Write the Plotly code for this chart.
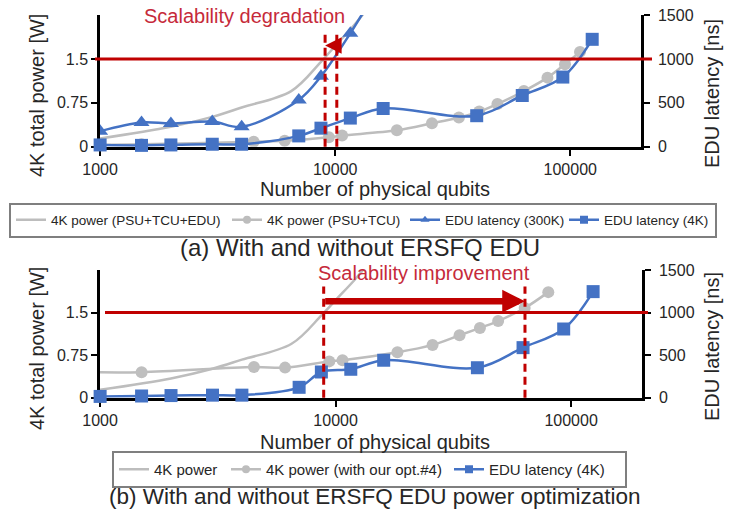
import math
import plotly.graph_objects as go

# ---------------- data ----------------
# 4K total power including the EDU (no markers, left axis)
QUBITS_TOTAL = [1000, 2000, 3000, 4000, 6500, 8700, 10000, 12000, 14000]
POWER_TOTAL_W = [0.14, 0.34, 0.51, 0.67, 0.95, 1.45, 1.72, 2.07, 2.40]

# 4K power without EDU (top) and with optimization #4 (bottom), left axis
QUBITS_GRAY = [900, 1500, 4500, 6100, 9400, 10700, 18300, 25800, 33600,
               41000, 49000, 63500, 80000, 95000, 110000]
POWER_PSU_TCU_W = [0.03, 0.04, 0.085, 0.10, 0.16, 0.19, 0.28, 0.40, 0.50,
                   0.60, 0.73, 0.95, 1.18, 1.41, 1.62]
POWER_OPT4_W = [0.45, 0.45, 0.54, 0.53, 0.64, 0.66, 0.80, 0.93, 1.10,
                1.23, 1.35, 1.58, 1.86]

# EDU latency, right axis
QUBITS_300K = [1000, 1500, 2000, 3000, 4000, 7000, 8700, 11600, 14000]
LATENCY_300K_NS = [177, 276, 264, 287, 226, 533, 801, 1292, 1650]

QUBITS_4K = [1000, 1500, 2000, 3000, 4000, 7000, 8700, 11600, 16000,
             40000, 62500, 93000, 124000]
LATENCY_4K_A_NS = [20, 15, 20, 28, 28, 123, 211, 326, 435, 353, 583, 793, 1223]
LATENCY_4K_B_NS = [15, 20, 25, 30, 30, 122, 302, 334, 440, 352, 588, 807, 1246]

# budgets and scalability limits
POWER_BUDGET_W = 1.5
DEGRADATION_QUBITS = [9060, 10160]
IMPROVEMENT_QUBITS = [8900, 63700]
ARROW_TOP_W = 1.73
ARROW_BOTTOM_W = 1.70

# axes
X_TICKS = [1000, 10000, 100000]
POWER_TICKS = [0, 0.75, 1.5]
POWER_TICK_TEXT = ["0", "0.75", "1.5"]
LATENCY_TICKS = [0, 500, 1000, 1500]

# ---------------- style ----------------
W, H = 747, 509
FONT = "Liberation Sans, Arial, sans-serif"
TXT = "#262626"
BLUE = "#4472C4"
GRAY_LINE = "#BDBDBD"
GRAY_MARK = "#BFBFBF"
RED = "#C00000"
RED_TXT = "#C62A3A"


def px(x):
    return x / W


def py(y):
    return 1 - y / H


fig = go.Figure()

# ---- panel (a) ----
fig.add_trace(go.Scatter(x=QUBITS_TOTAL, y=POWER_TOTAL_W, mode="lines",
                         line=dict(color=GRAY_LINE, width=2.5, shape="spline"),
                         xaxis="x", yaxis="y", showlegend=False))
fig.add_trace(go.Scatter(x=QUBITS_GRAY, y=POWER_PSU_TCU_W, mode="lines+markers",
                         line=dict(color=GRAY_LINE, width=2.5, shape="spline"),
                         marker=dict(color=GRAY_MARK, size=12, symbol="circle"),
                         xaxis="x", yaxis="y", showlegend=False))
fig.add_trace(go.Scatter(x=QUBITS_300K, y=LATENCY_300K_NS, mode="lines+markers",
                         line=dict(color=BLUE, width=2.5, shape="spline"),
                         marker=dict(color=BLUE, size=14, symbol="triangle-up"),
                         xaxis="x", yaxis="y2", showlegend=False))
fig.add_trace(go.Scatter(x=QUBITS_4K, y=LATENCY_4K_A_NS, mode="lines+markers",
                         line=dict(color=BLUE, width=2.5, shape="spline"),
                         marker=dict(color=BLUE, size=13, symbol="square"),
                         cliponaxis=False,
                         xaxis="x", yaxis="y2", showlegend=False))

# ---- panel (b) ----
fig.add_trace(go.Scatter(x=QUBITS_TOTAL, y=POWER_TOTAL_W, mode="lines",
                         line=dict(color=GRAY_LINE, width=2.5, shape="spline"),
                         xaxis="x2", yaxis="y3", showlegend=False))
fig.add_trace(go.Scatter(x=QUBITS_GRAY[:len(POWER_OPT4_W)], y=POWER_OPT4_W,
                         mode="lines+markers",
                         line=dict(color=GRAY_LINE, width=2.5, shape="spline"),
                         marker=dict(color=GRAY_MARK, size=12, symbol="circle"),
                         xaxis="x2", yaxis="y3", showlegend=False))
fig.add_trace(go.Scatter(x=QUBITS_4K, y=LATENCY_4K_B_NS, mode="lines+markers",
                         line=dict(color=BLUE, width=2.5, shape="spline"),
                         marker=dict(color=BLUE, size=13, symbol="square"),
                         cliponaxis=False,
                         xaxis="x2", yaxis="y4", showlegend=False))

# ---- legend entries (compact symbols) ----
legend_a = [
    ("4K power (PSU+TCU+EDU)", GRAY_LINE, "lines", None, 171),
    ("4K power (PSU+TCU)", GRAY_LINE, "lines+markers", "circle", 133),
    ("EDU latency (300K)", BLUE, "lines+markers", "triangle-up", 114),
    ("EDU latency (4K)", BLUE, "lines+markers", "square", 106),
]
for name, color, mode, sym, lw in legend_a:
    fig.add_trace(go.Scatter(x=[None], y=[None], name=name, mode=mode,
                             line=dict(color=color, width=2.5),
                             marker=dict(color=color, size=8, symbol=sym or "circle"),
                             xaxis="x", yaxis="y", legend="legend",
                             legendwidth=lw))

legend_b = [
    ("4K power", GRAY_LINE, "lines", None, 67),
    ("4K power (with our opt.#4)", GRAY_LINE, "lines+markers", "circle", 178),
    ("EDU latency (4K)", BLUE, "lines+markers", "square", 131),
]
for name, color, mode, sym, lw in legend_b:
    fig.add_trace(go.Scatter(x=[None], y=[None], name=name, mode=mode,
                             line=dict(color=color, width=2.5),
                             marker=dict(color=color, size=8, symbol=sym or "circle"),
                             xaxis="x2", yaxis="y3", legend="legend2",
                             legendwidth=lw))

# ---------------- axes ----------------
# lower bound a hair below 1000 so the 1000-qubit points are kept on the log axis
x_common = dict(type="log", range=[2.9995, math.log10(2e5)],
                tickvals=X_TICKS, ticktext=[str(v) for v in X_TICKS],
                showline=True, linecolor="black", linewidth=3,
                ticks="outside", ticklen=6, tickwidth=2, tickcolor="black",
                showgrid=False, zeroline=False, layer="below traces",
                automargin=False,
                tickfont=dict(size=16, color=TXT, family=FONT))
yl_common = dict(range=[0, 2.25], tickvals=POWER_TICKS, ticktext=POWER_TICK_TEXT,
                 showline=True, linecolor="black", linewidth=2.5,
                 ticks="outside", ticklen=6, tickwidth=2, tickcolor="black",
                 showgrid=False, zeroline=False, layer="below traces",
                 automargin=False,
                 tickfont=dict(size=16, color=TXT, family=FONT))
yr_common = dict(range=[0, 1500], tickvals=LATENCY_TICKS,
                 showline=True, linecolor="black", linewidth=2.5,
                 ticks="outside", ticklen=6, tickwidth=2, tickcolor="black",
                 showgrid=False, zeroline=False, layer="below traces", side="right",
                 automargin=False, ticklabelstandoff=5,
                 tickfont=dict(size=16, color=TXT, family=FONT))

fig.update_layout(
    xaxis=dict(domain=[px(100), px(641)], anchor="y", **x_common),
    yaxis=dict(domain=[py(146.7), py(15)], anchor="x", **yl_common),
    yaxis2=dict(overlaying="y", anchor="x", **yr_common),
    xaxis2=dict(domain=[px(100), px(642)], anchor="y3", **x_common),
    yaxis3=dict(domain=[py(397.7), py(270)], anchor="x2", **yl_common),
    yaxis4=dict(overlaying="y3", anchor="x2", **yr_common),
)

# ---------------- reference lines ----------------
shapes = [
    dict(type="line", xref="paper", yref="y", x0=px(95), x1=px(652),
         y0=POWER_BUDGET_W, y1=POWER_BUDGET_W, line=dict(color=RED, width=3)),
    dict(type="line", xref="paper", yref="y3", x0=px(105), x1=px(648),
         y0=POWER_BUDGET_W, y1=POWER_BUDGET_W, line=dict(color=RED, width=3)),
]
for q in DEGRADATION_QUBITS:
    shapes.append(dict(type="line", xref="x", yref="y domain", x0=q, x1=q,
                       y0=0, y1=0.886, line=dict(color=RED, width=3, dash="8px,5px")))
for q in IMPROVEMENT_QUBITS:
    shapes.append(dict(type="line", xref="x2", yref="y3 domain", x0=q, x1=q,
                       y0=0, y1=0.87, line=dict(color=RED, width=3, dash="8px,5px")))
fig.update_layout(shapes=shapes)

# ---------------- annotations ----------------
ann = []
# arrows
ann.append(dict(x=math.log10(DEGRADATION_QUBITS[0]), y=ARROW_TOP_W, xref="x", yref="y",
                ax=math.log10(DEGRADATION_QUBITS[1]), ay=ARROW_TOP_W, axref="x", ayref="y",
                text="", showarrow=True, arrowhead=2, arrowsize=1.1, arrowwidth=3,
                arrowcolor=RED))
ann.append(dict(x=math.log10(IMPROVEMENT_QUBITS[1]), y=ARROW_BOTTOM_W, xref="x2", yref="y3",
                ax=math.log10(IMPROVEMENT_QUBITS[0]), ay=ARROW_BOTTOM_W, axref="x2", ayref="y3",
                text="", showarrow=True, arrowhead=2, arrowsize=0.7, arrowwidth=6.5,
                arrowcolor=RED))


def label(text, x, y, size, color=TXT, angle=0):
    ann.append(dict(text=text, x=px(x), y=py(y), xref="paper", yref="paper",
                    xanchor="center", yanchor="middle", showarrow=False,
                    textangle=angle, font=dict(size=size, color=color, family=FONT)))


label("Scalability degradation", 244, 16, 20, RED_TXT)
label("Scalability improvement", 424, 273, 20, RED_TXT)
label("4K total power [W]", 37, 96, 20, angle=-90)
label("EDU latency [ns]", 712, 94, 20, angle=-90)
label("Number of physical qubits", 375, 189, 20)
label("4K total power [W]", 37, 349, 20, angle=-90)
label("EDU latency [ns]", 712, 347, 20, angle=-90)
label("Number of physical qubits", 375, 442, 20)
label("(a) With and without ERSFQ EDU", 360, 247, 24)
label("(b) With and without ERSFQ EDU power optimization", 374, 496, 22.5)

fig.update_layout(
    annotations=ann,
    width=W, height=H, autosize=False,
    margin=dict(l=0, r=0, t=0, b=0, autoexpand=False),
    paper_bgcolor="white", plot_bgcolor="white",
    font=dict(family=FONT, color=TXT),
    legend=dict(orientation="h", x=px(9), xanchor="left", y=py(220), yanchor="middle",
                font=dict(size=13.5, family=FONT, color=TXT),
                bordercolor="#7f7f7f", borderwidth=2, bgcolor="white",
                itemwidth=30, traceorder="normal"),
    legend2=dict(orientation="h", x=px(112), xanchor="left", y=py(469.5), yanchor="middle",
                 font=dict(size=15, family=FONT, color=TXT),
                 bordercolor="#7f7f7f", borderwidth=2, bgcolor="white",
                 itemwidth=30, traceorder="normal"),
)

fig.write_html("out.html")
